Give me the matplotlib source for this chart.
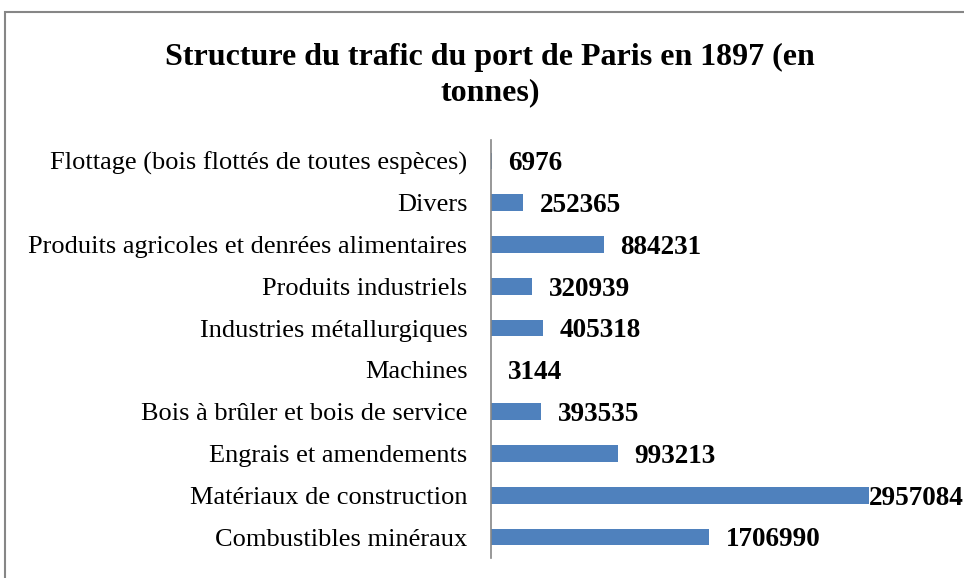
import matplotlib
matplotlib.use('Agg')
import matplotlib.pyplot as plt
from matplotlib.patches import Rectangle

plt.rcParams['font.family'] = ['Liberation Serif', 'DejaVu Serif']

# data (top to bottom)
categories = [
    'Flottage (bois flottés de toutes espèces)',
    'Divers',
    'Produits agricoles et denrées alimentaires',
    'Produits industriels',
    'Industries métallurgiques',
    'Machines',
    'Bois à brûler et bois de service',
    'Engrais et amendements',
    'Matériaux de construction',
    'Combustibles minéraux',
]
tonnes = [6976, 252365, 884231, 320939, 405318, 3144, 393535, 993213, 2957084, 1706990]

W, H = 964, 578
fig = plt.figure(figsize=(W / 100, H / 100), dpi=100)
ax = fig.add_axes([491 / W, 1 - 558 / H, (938 - 491) / W, (558 - 140) / H])

pos = list(range(len(categories)))
ax.barh(pos, tonnes, height=0.4, color='#4F81BD')
ax.set_ylim(len(categories) - 0.5, -0.5)
ax.set_xlim(0, 3500000)
ax.set_yticks(pos)
ax.set_yticklabels(categories, fontsize=19)
ax.tick_params(axis='y', length=0, pad=17)
ax.set_xticks([])
for s in ['top', 'right', 'bottom']:
    ax.spines[s].set_visible(False)
ax.spines['left'].set_color('#868686')
ax.spines['left'].set_linewidth(1.2)

# etiquettes de valeurs
biggest = max(tonnes)
for y, v in zip(pos, tonnes):
    off = 0 if v == biggest else 12
    ax.annotate(str(v), (v, y), xytext=(off, -2), textcoords='offset points',
                va='center', ha='left', fontsize=19.5, fontweight='bold',
                annotation_clip=False)

fig.text(490 / W, 1 - 75 / H, 'Structure du trafic du port de Paris en 1897 (en\ntonnes)',
         ha='center', va='center', fontsize=23, fontweight='bold', linespacing=1.3)

# cadre du graphique
fig.patches.append(Rectangle((5 / W, -0.1), 1.2, 1.1 - 12 / H, transform=fig.transFigure,
                             fill=False, edgecolor='#868686', linewidth=1.5))

fig.savefig('out.png', dpi=100, facecolor='white')
